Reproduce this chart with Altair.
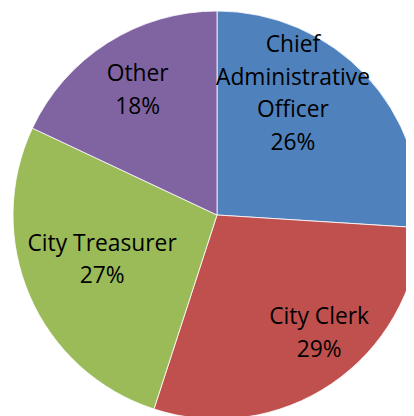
import altair as alt
import pandas as pd

names = ["Chief Administrative Officer", "City Clerk", "City Treasurer", "Other"]
labels = ["Chief\nAdministrative\nOfficer\n26%", "City Clerk\n29%", "City Treasurer\n27%", "Other\n18%"]
values = [26, 29, 27, 18]
colors = ["#4F81BD", "#C0504D", "#9BBB59", "#8064A2"]

df = pd.DataFrame({"name": names, "value": values, "label": labels, "order": [0, 1, 2, 3]})

cx, cy, R = 209, 207, 204
theta_scale = alt.Scale(domain=[0, 100], range=[0, 6.283185307179586])

base = alt.Chart(df).transform_stack(
    stack="value", groupby=[], as_=["start", "end"], sort=[alt.SortField("order", order="ascending")]
).transform_calculate(mid="(datum.start + datum.end) / 2")

pie = base.mark_arc(outerRadius=R, stroke="#ffffff", strokeWidth=0.8).encode(
    theta=alt.Theta("start:Q", scale=theta_scale),
    theta2="end:Q",
    color=alt.Color("name:N", scale=alt.Scale(domain=names, range=colors), legend=None),
    x=alt.value(cx),
    y=alt.value(cy),
)

offsets = {
    "Chief Administrative Officer": (144, -29, -71),
    "City Clerk": (155, 15, -26),
    "City Treasurer": (123, -2, -20),
    "Other": (148, 0, -16),
}

layers = [pie]
for n in names:
    r, dx, dy = offsets[n]
    t = base.transform_filter(alt.datum.name == n).mark_text(
        radius=r, dx=dx, dy=dy, font="Open Sans", fontSize=22.8, lineHeight=32.5,
        align="center", baseline="middle", color="#000000", lineBreak="\n",
    ).encode(
        theta=alt.Theta("mid:Q", scale=theta_scale),
        text="label:N", x=alt.value(cx), y=alt.value(cy),
    )
    layers.append(t)

chart = alt.layer(*layers).properties(
    width=398, height=408, autosize=alt.AutoSizeParams(type="none"), padding=0
).configure_view(stroke=None)

chart.save("out.html", embed_options={"renderer": "svg", "actions": False})
